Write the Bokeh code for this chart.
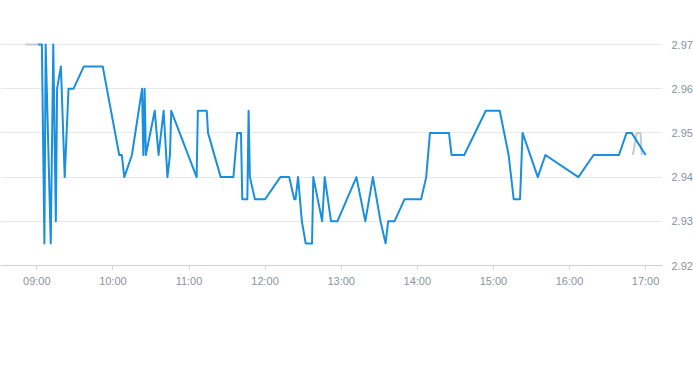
from datetime import datetime
import numpy as np
from bokeh.plotting import figure
from bokeh.models import Range1d, DatetimeTickFormatter, FixedTicker
from bokeh.embed import file_html
from bokeh.resources import INLINE

# ---- data ----
price_times = ["09:01", "09:04", "09:06", "09:07", "09:11", "09:13", "09:15", "09:16", "09:19", "09:22",
               "09:25", "09:29", "09:37", "09:52", "10:05", "10:07", "10:09", "10:15", "10:23", "10:24",
               "10:25", "10:26", "10:33", "10:36", "10:40", "10:43", "10:45", "10:46", "11:06", "11:07",
               "11:14", "11:15", "11:25", "11:35", "11:38", "11:41", "11:42", "11:46", "11:47", "11:48",
               "11:52", "12:00", "12:12", "12:19", "12:23", "12:24", "12:26", "12:29", "12:32", "12:37",
               "12:38", "12:45", "12:47", "12:52", "12:57", "13:12", "13:19", "13:25", "13:31", "13:35",
               "13:37", "13:42", "13:50", "14:03", "14:07", "14:10", "14:25", "14:27", "14:37", "14:54",
               "15:05", "15:12", "15:16", "15:21", "15:23", "15:35", "15:41", "16:07", "16:19", "16:39",
               "16:45", "16:49", "17:00"]
price_values = [2.970, 2.970, 2.925, 2.970, 2.925, 2.970, 2.930, 2.960, 2.965, 2.940,
                2.960, 2.960, 2.965, 2.965, 2.945, 2.945, 2.940, 2.945, 2.960, 2.945,
                2.960, 2.945, 2.955, 2.945, 2.955, 2.940, 2.945, 2.955, 2.940, 2.955,
                2.955, 2.950, 2.940, 2.940, 2.950, 2.950, 2.935, 2.935, 2.955, 2.940,
                2.935, 2.935, 2.940, 2.940, 2.935, 2.935, 2.940, 2.930, 2.925, 2.925,
                2.940, 2.930, 2.940, 2.930, 2.930, 2.940, 2.930, 2.940, 2.930, 2.925,
                2.930, 2.930, 2.935, 2.935, 2.940, 2.950, 2.950, 2.945, 2.945, 2.955,
                2.955, 2.945, 2.935, 2.935, 2.950, 2.940, 2.945, 2.940, 2.945, 2.945,
                2.950, 2.950, 2.945]

ref_start_times = ["08:51", "09:01"]
ref_start_values = [2.970, 2.970]
ref_end_times = ["16:50", "16:53", "16:56", "16:57"]
ref_end_values = [2.945, 2.950, 2.950, 2.945]

tick_labels = ["09:00", "10:00", "11:00", "12:00", "13:00", "14:00", "15:00", "16:00", "17:00"]
y_ticks = [2.92, 2.93, 2.94, 2.95, 2.96, 2.97]


def to_dt(s):
    h, m = s.split(":")
    return datetime(2024, 1, 2, int(h), int(m))


def to_ms(d):
    return (d - datetime(1970, 1, 1)).total_seconds() * 1000.0


px = [to_dt(t) for t in price_times]

FW = 662
p = figure(frame_width=FW, frame_height=245, x_axis_type="datetime", y_axis_location="right",
           output_backend="svg", toolbar_location=None,
           min_border_left=0, min_border_top=20, min_border_right=0, min_border_bottom=0)

# x range: 09:00 at 36.3px from frame left, 76.1 px per hour
ms_per_px = 3600000.0 / 76.1
t9 = to_ms(to_dt("09:00"))
p.x_range = Range1d(t9 - 36.3 * ms_per_px, t9 + (FW - 36.3) * ms_per_px)
p.y_range = Range1d(2.92, 2.97 + 24 / 4420.0)

p.line([to_dt(t) for t in ref_start_times], ref_start_values, line_color="#c3cad2", line_width=2)
p.line([to_dt(t) for t in ref_end_times], ref_end_values, line_color="#c3cad2", line_width=2)
p.line(px, price_values, line_color="#1a8fdd", line_width=2, line_join="round")

p.outline_line_color = None
p.background_fill_color = "white"
p.border_fill_color = "white"

p.xgrid.grid_line_color = None
p.ygrid.grid_line_color = "#e6e8ea"
p.ygrid.grid_line_width = 1

p.xaxis.ticker = FixedTicker(ticks=[to_ms(to_dt(t)) for t in tick_labels])
p.xaxis.formatter = DatetimeTickFormatter(hours="%H:%M", minutes="%H:%M", hourmin="%H:%M", days="%H:%M")
p.xaxis.axis_line_color = "#ccd1d6"
p.xaxis.major_tick_line_color = "#ccd1d6"
p.xaxis.major_tick_out = 4
p.xaxis.major_tick_in = 0
p.xaxis.minor_tick_line_color = None
p.xaxis.major_label_standoff = 5
p.xaxis.major_label_text_color = "#8a939c"
p.xaxis.major_label_text_font = "Liberation Sans"
p.xaxis.major_label_text_font_size = "11px"

p.yaxis.ticker = FixedTicker(ticks=y_ticks)
p.yaxis.axis_line_color = None
p.yaxis.major_tick_line_color = None
p.yaxis.minor_tick_line_color = None
p.yaxis.major_tick_out = 0
p.yaxis.major_tick_in = 0
p.yaxis.major_label_standoff = 9
p.yaxis.major_label_text_color = "#8a939c"
p.yaxis.major_label_text_font = "Liberation Sans"
p.yaxis.major_label_text_font_size = "11px"
p.yaxis.formatter.use_scientific = False

open("out.html", "w").write(file_html(p, INLINE))
